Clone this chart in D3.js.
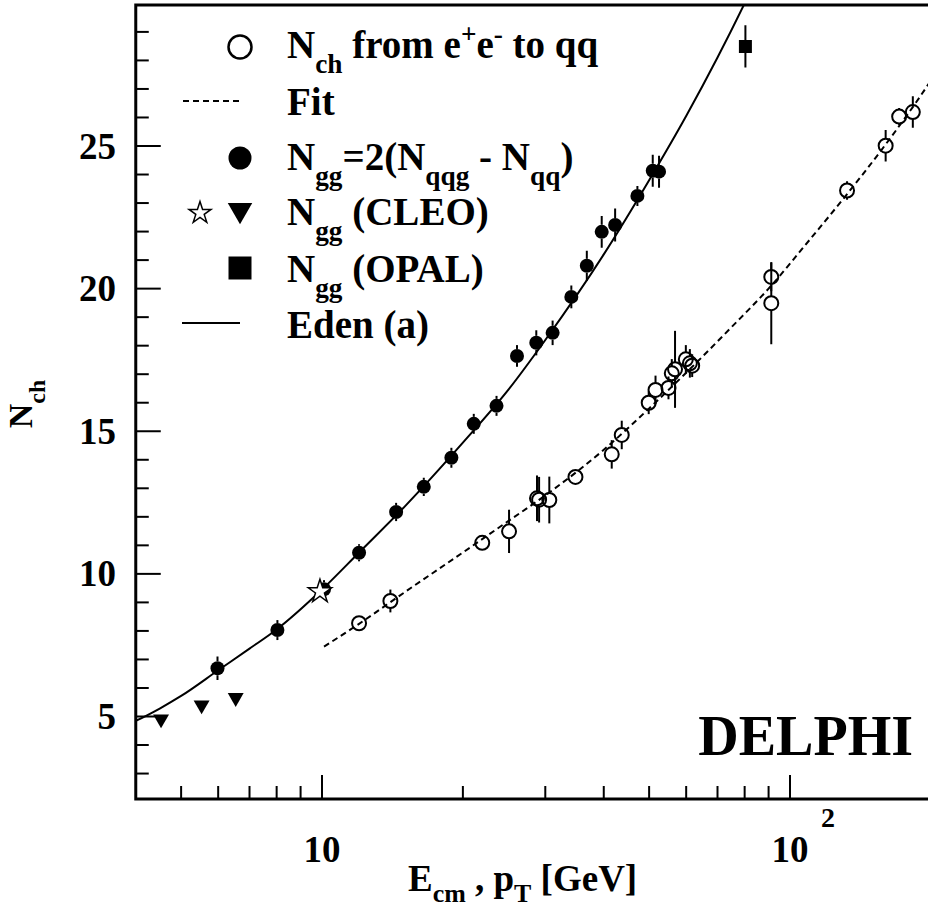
<!DOCTYPE html>
<html>
<head>
<meta charset="utf-8">
<script src="https://cdn.jsdelivr.net/npm/d3@7"></script>
<style>
  body { margin: 0; background: #fff; }
</style>
</head>
<body>
<svg id="chart" width="928" height="909"></svg>
<script>
// N_ch from e+e- to qq (open circles)
var qqE   = [12.0, 14.0, 22.0, 25.1, 28.8, 29.1, 30.6, 34.8, 41.6, 43.7, 49.9, 51.6, 55.0, 55.9, 56.8, 59.9, 61.1, 61.8, 91.2, 91.2, 132.4, 160.1, 171.1, 183.0];
var qqN   = [8.27, 9.05, 11.09, 11.49, 12.65, 12.6, 12.59, 13.40, 14.19, 14.87, 16.00, 16.45, 16.52, 17.03, 17.17, 17.52, 17.38, 17.30, 20.41, 19.49, 23.44, 25.01, 26.03, 26.19];
var qqErr = [0.15, 0.40, 0.15, 0.76, 0.80, 0.80, 0.82, 0.20, 0.50, 0.50, 0.40, 0.50, 0.40, 0.50, 1.35, 0.50, 0.50, 0.40, 0.50, 1.44, 0.32, 0.55, 0.30, 0.55];

// N_gg = 2(N_qqg - N_qq) (filled circles)
var ggE   = [5.98, 8.03, 10.1, 12.0, 14.4, 16.5, 18.9, 21.1, 23.6, 26.1, 28.7, 31.1, 34.1, 36.8, 39.6, 42.3, 47.2, 50.9, 52.5];
var ggN   = [6.69, 8.03, 9.46, 10.74, 12.17, 13.05, 14.07, 15.26, 15.89, 17.64, 18.10, 18.45, 19.71, 20.80, 21.99, 22.23, 23.25, 24.13, 24.10];
var ggErr = [0.41, 0.35, 0.32, 0.30, 0.32, 0.32, 0.35, 0.35, 0.35, 0.38, 0.44, 0.43, 0.40, 0.53, 0.56, 0.58, 0.35, 0.56, 0.56];

// CLEO
var cleoTriE  = [4.53, 5.53, 6.54];
var cleoTriN  = [4.91, 5.40, 5.66];
var cleoStarE = [9.9];
var cleoStarN = [9.38];

// OPAL
var opalE   = [80.3];
var opalN   = [28.49];
var opalErr = [0.74];

// curves
var fitE  = [10.1, 12, 15, 20, 25, 30, 40, 50, 60, 75, 90, 110, 130, 160, 200, 230];
var fitN  = [7.45, 8.25, 9.35, 10.75, 11.85, 12.75, 14.35, 15.8, 17.05, 18.65, 20.0, 21.7, 23.15, 25.05, 27.3, 28.9];
var edenE = [3.9, 4, 4.5, 5, 6, 7, 8, 10, 12, 15, 20, 25, 30, 40, 50, 60, 70, 80, 85];
var edenN = [4.77, 4.85, 5.28, 5.72, 6.62, 7.38, 8.05, 9.45, 10.75, 12.35, 14.6, 16.45, 18.2, 21.2, 23.8, 26.05, 28.1, 30.0, 30.9];

var yMajor = [5, 10, 15, 20, 25];
var yMinor = d3.range(3, 30);
var xMajor = [10, 100];
var xMinor = [5, 6, 7, 8, 9, 20, 30, 40, 50, 60, 70, 80, 90];

var FONT = '"Liberation Serif", Tinos, "Times New Roman", Times, "Nimbus Roman", "DejaVu Serif", "Noto Serif", serif';

var svg = d3.select('#chart')
  .attr('font-family', FONT).attr('font-weight', 'bold');
var W = +svg.attr('width');

var x = d3.scaleLog().domain([10, 100]).range([322, 790]);
var y = d3.scaleLinear().domain([5, 25]).range([716.5, 146]);

var pLeft = x(4), pTop = 5, pBottom = 799, pRight = W + 20;

svg.append('clipPath').attr('id', 'plot')
  .append('rect').attr('x', pLeft).attr('y', pTop)
  .attr('width', pRight - pLeft).attr('height', pBottom - pTop);

// axis ticks
var ticks = svg.append('g').attr('stroke', '#000').attr('stroke-width', 2);
yMinor.forEach(function(v) {
  var long = yMajor.indexOf(v) >= 0;
  ticks.append('line').attr('x1', pLeft).attr('x2', pLeft + (long ? 25 : 13))
    .attr('y1', y(v)).attr('y2', y(v));
});
xMinor.concat(xMajor).forEach(function(v) {
  var long = xMajor.indexOf(v) >= 0;
  ticks.append('line').attr('x1', x(v)).attr('x2', x(v))
    .attr('y1', pBottom).attr('y2', pBottom - (long ? 24 : 13));
});

// frame
svg.append('path')
  .attr('d', `M${pRight},${pTop}H${pLeft}V${pBottom}H${pRight}`)
  .attr('fill', 'none').attr('stroke', '#000').attr('stroke-width', 3);

// tick labels
svg.selectAll('.ylab').data(yMajor).enter().append('text')
  .attr('x', 116).attr('y', function(d) { return y(d) + 12.5; })
  .attr('text-anchor', 'end').attr('font-size', 37).text(function(d) { return d; });

svg.append('text').attr('x', x(10)).attr('y', 862).attr('text-anchor', 'middle')
  .attr('font-size', 37).text('10');
svg.append('text').attr('x', x(100)).attr('y', 862).attr('text-anchor', 'middle')
  .attr('font-size', 37).text('10');
svg.append('text').attr('x', x(100) + 31).attr('y', 827)
  .attr('font-size', 28).text('2');

// rich text helper: parts = [[text, 'n'|'sub'|'sup'], ...]
function rich(sel, parts, size, subShift) {
  var shift = 0;
  subShift = subShift || 0.38;
  parts.forEach(function(p) {
    var target = p[1] === 'sub' ? size * subShift : p[1] === 'sup' ? -size * 0.38 : 0;
    sel.append('tspan')
      .attr('dy', target - shift)
      .attr('font-size', p[1] === 'n' ? size : size * 0.7)
      .text(p[0]);
    shift = target;
  });
}

// axis titles
rich(svg.append('text').attr('x', 408).attr('y', 891).attr('font-size', 37),
  [['E', 'n'], ['cm', 'sub'], [' , p', 'n'], ['T', 'sub'], [' [GeV]', 'n']], 37, 0.3);

rich(svg.append('text').attr('transform', 'translate(32,404) rotate(-90)')
  .attr('text-anchor', 'middle').attr('font-size', 34),
  [['N', 'n'], ['ch', 'sub']], 34);

svg.append('text').attr('x', 913).attr('y', 755).attr('text-anchor', 'end')
  .attr('font-size', 56).text('DELPHI');

// curves
var plot = svg.append('g').attr('clip-path', 'url(#plot)');
var line = d3.line().curve(d3.curveMonotoneX)
  .x(function(d) { return x(d[0]); }).y(function(d) { return y(d[1]); });

plot.append('path').datum(d3.zip(edenE, edenN)).attr('d', line)
  .attr('fill', 'none').attr('stroke', '#000').attr('stroke-width', 2);
plot.append('path').datum(d3.zip(fitE, fitN)).attr('d', line)
  .attr('fill', 'none').attr('stroke', '#000').attr('stroke-width', 2)
  .attr('stroke-dasharray', '6,4');

// error bars drawn outside the marker
function errBars(E, N, Err, r) {
  E.forEach(function(e, i) {
    var cx = x(e), cy = y(N[i]);
    var hi = y(N[i] + Err[i]), lo = y(N[i] - Err[i]);
    if (cy - hi > r) {
      plot.append('line').attr('x1', cx).attr('x2', cx).attr('y1', hi).attr('y2', cy - r)
        .attr('stroke', '#000').attr('stroke-width', 2);
      plot.append('line').attr('x1', cx).attr('x2', cx).attr('y1', cy + r).attr('y2', lo)
        .attr('stroke', '#000').attr('stroke-width', 2);
    }
  });
}
errBars(qqE, qqN, qqErr, 7);
errBars(ggE, ggN, ggErr, 7);
errBars(opalE, opalN, opalErr, 6.5);

function markers(E, N, type, size, fill, rot, sw) {
  var sym = d3.symbol().type(type).size(size);
  E.forEach(function(e, i) {
    plot.append('path').attr('d', sym())
      .attr('transform', `translate(${x(e)},${y(N[i])})` + (rot ? ` rotate(${rot})` : ''))
      .attr('fill', fill)
      .attr('stroke', '#000').attr('stroke-width', sw || 0);
  });
}
markers(qqE, qqN, d3.symbolCircle, Math.PI * 49, 'none', 0, 2);
markers(ggE, ggN, d3.symbolCircle, Math.PI * 49, '#000');
markers(cleoTriE, cleoTriN, d3.symbolTriangle, 110, '#000', 180);
markers(opalE, opalN, d3.symbolSquare, 169, '#000');
markers(cleoStarE, cleoStarN, d3.symbolStar, 170, '#fff', 0, 1.5);

// legend
var lg = svg.append('g');
var circ = d3.symbol().type(d3.symbolCircle).size(Math.PI * 11.5 * 11.5);
lg.append('path').attr('d', circ()).attr('transform', 'translate(240,47)')
  .attr('fill', 'none').attr('stroke', '#000').attr('stroke-width', 2.5);
lg.append('line').attr('x1', 183).attr('x2', 240).attr('y1', 101).attr('y2', 101)
  .attr('stroke', '#000').attr('stroke-width', 2).attr('stroke-dasharray', '6,4');
lg.append('path').attr('d', circ()).attr('transform', 'translate(240,158)');
lg.append('path').attr('d', d3.symbol().type(d3.symbolStar).size(150)())
  .attr('transform', 'translate(200,213)').attr('fill', 'none')
  .attr('stroke', '#000').attr('stroke-width', 1.5);
lg.append('path').attr('d', d3.symbol().type(d3.symbolTriangle).size(260)())
  .attr('transform', 'translate(240,210) rotate(180)');
lg.append('path').attr('d', d3.symbol().type(d3.symbolSquare).size(529)())
  .attr('transform', 'translate(240,268)');
lg.append('line').attr('x1', 182).attr('x2', 240).attr('y1', 323).attr('y2', 323)
  .attr('stroke', '#000').attr('stroke-width', 2);

var legendRows = [
  [58,  [['N', 'n'], ['ch', 'sub'], [' from e', 'n'], ['+', 'sup'], ['e', 'n'], ['-', 'sup'], [' to qq', 'n']]],
  [115, [['Fit', 'n']]],
  [170, [['N', 'n'], ['gg', 'sub'], ['=2(N', 'n'], ['qqg', 'sub'], [' - N', 'n'], ['qq', 'sub'], [')', 'n']]],
  [225, [['N', 'n'], ['gg', 'sub'], [' (CLEO)', 'n']]],
  [282, [['N', 'n'], ['gg', 'sub'], [' (OPAL)', 'n']]],
  [338, [['Eden (a)', 'n']]]
];
legendRows.forEach(function(r) {
  rich(lg.append('text').attr('x', 287).attr('y', r[0]).attr('font-size', 39), r[1], 39);
});
</script>
</body>
</html>
